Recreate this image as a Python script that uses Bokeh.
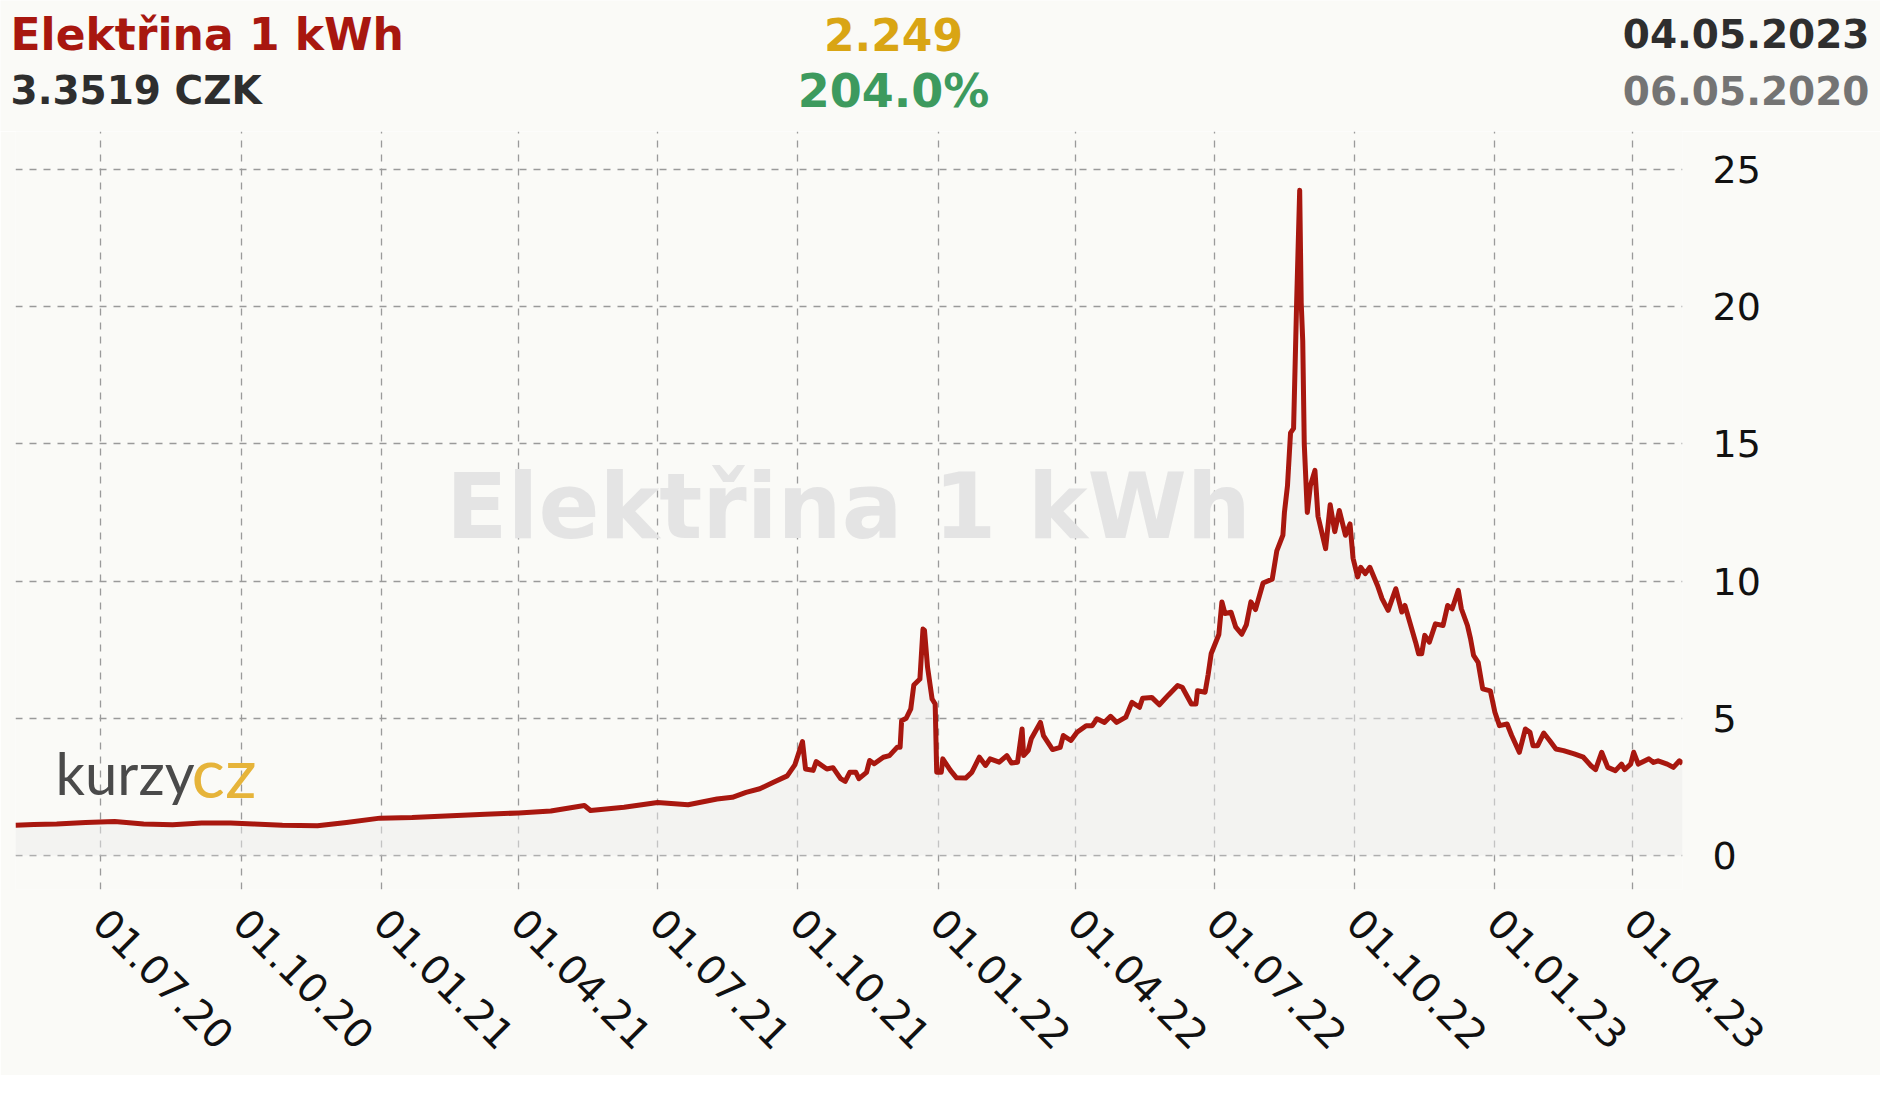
import math
import pandas as pd
from bokeh.plotting import figure
from bokeh.layouts import column
from bokeh.models import Range1d, FixedTicker, DatetimeTickFormatter, Label, ColumnDataSource
from bokeh.embed import file_html
from bokeh.resources import INLINE

# ---------------- data ----------------
dates = [
    "2020-05-06", "2020-05-18", "2020-06-02", "2020-06-21", "2020-07-10", "2020-07-29",
    "2020-08-17", "2020-09-05", "2020-09-24", "2020-10-09", "2020-10-28", "2020-11-20",
    "2020-12-09", "2020-12-31",
    "2021-01-21", "2021-02-12", "2021-03-10", "2021-04-01", "2021-04-22", "2021-05-14",
    "2021-05-18", "2021-06-09", "2021-07-01", "2021-07-21", "2021-08-09", "2021-08-19",
    "2021-08-28", "2021-09-06", "2021-09-15", "2021-09-24", "2021-09-29", "2021-10-04",
    "2021-10-06", "2021-10-11", "2021-10-13", "2021-10-20", "2021-10-24", "2021-10-29",
    "2021-11-01", "2021-11-04", "2021-11-08", "2021-11-10", "2021-11-15", "2021-11-17",
    "2021-11-20", "2021-11-26", "2021-11-30", "2021-12-05", "2021-12-07", "2021-12-08",
    "2021-12-11", "2021-12-14", "2021-12-16", "2021-12-20", "2021-12-22", "2021-12-23",
    "2021-12-25", "2021-12-28", "2021-12-30", "2021-12-31",
    "2022-01-03", "2022-01-04", "2022-01-09", "2022-01-13", "2022-01-19", "2022-01-23",
    "2022-01-28", "2022-02-01", "2022-02-04", "2022-02-10", "2022-02-15", "2022-02-18",
    "2022-02-22", "2022-02-25", "2022-02-26", "2022-03-01", "2022-03-03", "2022-03-09",
    "2022-03-11", "2022-03-17", "2022-03-22", "2022-03-24", "2022-03-29", "2022-04-02",
    "2022-04-08", "2022-04-12", "2022-04-15", "2022-04-20", "2022-04-24", "2022-04-28",
    "2022-05-04", "2022-05-08", "2022-05-13", "2022-05-15", "2022-05-21", "2022-05-26",
    "2022-06-01", "2022-06-07", "2022-06-10", "2022-06-16", "2022-06-19", "2022-06-20",
    "2022-06-25", "2022-06-27", "2022-06-29", "2022-07-04", "2022-07-06", "2022-07-08",
    "2022-07-12", "2022-07-15", "2022-07-19", "2022-07-22", "2022-07-25", "2022-07-28",
    "2022-08-02", "2022-08-08", "2022-08-11", "2022-08-15", "2022-08-16", "2022-08-18",
    "2022-08-20", "2022-08-22", "2022-08-24", "2022-08-26", "2022-08-27", "2022-08-28",
    "2022-08-29", "2022-08-31", "2022-09-02", "2022-09-05", "2022-09-07", "2022-09-12",
    "2022-09-15", "2022-09-18", "2022-09-21", "2022-09-25", "2022-09-28", "2022-09-30",
    "2022-10-03", "2022-10-05", "2022-10-08", "2022-10-11", "2022-10-16", "2022-10-19",
    "2022-10-23", "2022-10-28", "2022-11-01", "2022-11-03", "2022-11-10", "2022-11-12",
    "2022-11-14", "2022-11-16", "2022-11-19", "2022-11-23", "2022-11-28", "2022-12-01",
    "2022-12-04", "2022-12-08", "2022-12-10", "2022-12-14", "2022-12-16", "2022-12-18",
    "2022-12-21", "2022-12-24", "2022-12-29",
    "2023-01-01", "2023-01-04", "2023-01-09", "2023-01-12", "2023-01-17", "2023-01-21",
    "2023-01-24", "2023-01-26", "2023-01-29", "2023-02-02", "2023-02-06", "2023-02-10",
    "2023-02-15", "2023-02-22", "2023-02-28", "2023-03-05", "2023-03-08", "2023-03-12",
    "2023-03-16", "2023-03-21", "2023-03-25", "2023-03-27", "2023-03-31", "2023-04-02",
    "2023-04-05", "2023-04-12", "2023-04-15", "2023-04-18", "2023-04-24", "2023-04-28",
    "2023-05-02", "2023-05-04",
]
prices = [
    1.10, 1.13, 1.15, 1.20, 1.24, 1.15,
    1.12, 1.18, 1.18, 1.15, 1.10, 1.08,
    1.20, 1.36,
    1.38, 1.44, 1.50, 1.55, 1.62, 1.82,
    1.64, 1.76, 1.93, 1.85, 2.06, 2.12,
    2.30, 2.43, 2.67, 2.90, 3.30, 4.15,
    3.15, 3.10, 3.42, 3.15, 3.20, 2.80,
    2.70, 3.03, 3.03, 2.80, 3.03, 3.46,
    3.34, 3.58, 3.64, 3.94, 3.94, 4.91,
    5.00, 5.34, 6.21, 6.43, 8.25, 8.20,
    6.86, 5.70, 5.52, 3.03,
    3.03, 3.52, 3.10, 2.83, 2.82, 3.03,
    3.58, 3.28, 3.52, 3.40, 3.64, 3.37,
    3.40, 4.61, 3.64, 3.82, 4.25, 4.85,
    4.37, 3.86, 3.94, 4.37, 4.19, 4.49,
    4.73, 4.73, 4.98, 4.85, 5.07, 4.85,
    5.04, 5.58, 5.40, 5.73, 5.76, 5.49,
    5.85, 6.19, 6.13, 5.52, 5.52, 6.00,
    5.95, 6.60, 7.36, 8.05, 9.24, 8.82,
    8.86, 8.33, 8.06, 8.40, 9.24, 8.96,
    9.93, 10.07, 11.10, 11.67, 12.50, 13.47,
    15.40, 15.56, 20.14, 24.24, 20.14, 18.75,
    15.00, 12.50, 13.47, 14.03, 12.36, 11.18,
    12.78, 11.80, 12.57, 11.67, 12.08, 10.83,
    10.15, 10.50, 10.27, 10.50, 9.84, 9.36,
    8.93, 9.72, 8.87, 9.11, 7.77, 7.35,
    7.35, 8.02, 7.77, 8.44, 8.38, 9.11,
    8.99, 9.66, 8.99, 8.38, 7.90, 7.29,
    7.04, 6.07, 6.00,
    5.22, 4.73, 4.79, 4.37, 3.76, 4.61,
    4.49, 4.00, 4.00, 4.46, 4.18, 3.88,
    3.82, 3.70, 3.58, 3.27, 3.13, 3.76,
    3.21, 3.09, 3.33, 3.13, 3.33, 3.76,
    3.33, 3.52, 3.39, 3.45, 3.33, 3.21,
    3.45, 3.35,
]
x_tick_dates = ["2020-07-01", "2020-10-01", "2021-01-01", "2021-04-01", "2021-07-01",
                "2021-10-01", "2022-01-01", "2022-04-01", "2022-07-01", "2022-10-01",
                "2023-01-01", "2023-04-01"]
y_ticks = [0, 5, 10, 15, 20, 25]

title_text = "Elektřina 1 kWh"
current_text = "3.3519 CZK"
change_abs_text = "2.249"
change_pct_text = "204.0%"
date_to_text = "04.05.2023"
date_from_text = "06.05.2020"
logo_a = "kurzy"
logo_b = "cz"

# ---------------- styling ----------------
BG = "#fafaf7"
RED = "#a8170f"
FONT = "DejaVu Sans"
W = 1880
HEAD_H = 131
MAIN_H = 944

# ---------------- header ----------------
head = figure(width=W, height=HEAD_H, output_backend="svg", toolbar_location=None,
              x_axis_location=None, y_axis_location=None,
              x_range=Range1d(0, 1), y_range=Range1d(0, 1),
              min_border_left=0, min_border_right=0, min_border_top=0, min_border_bottom=0)
head.frame_align = False
head.background_fill_color = BG
head.border_fill_color = BG
head.outline_line_color = None
head.grid.visible = False

def hdr(x, y, text, size, color, align):
    head.add_layout(Label(x=x, y=y, x_units="screen", y_units="screen", text=text,
                          text_font=FONT, text_font_style="bold", text_font_size=size,
                          text_color=color, text_align=align, text_baseline="alphabetic"))

hdr(10, 97, title_text, "44px", RED, "left")
hdr(10, 41, current_text, "39px", "#2e2e2e", "left")
hdr(893, 97, change_abs_text, "44px", "#d9a514", "center")
hdr(893, 41, change_pct_text, "46px", "#3d9a5e", "center")
hdr(1869, 98, date_to_text, "39px", "#2e2e2e", "right")
hdr(1869, 41, date_from_text, "39px", "#747474", "right")

# ---------------- main chart ----------------
dt = pd.to_datetime(dates)
src = ColumnDataSource(dict(x=dt, y=prices))

p = figure(width=W, height=MAIN_H, x_axis_type="datetime", y_axis_location="right",
           output_backend="svg", toolbar_location=None,
           x_range=Range1d(dt[0], dt[-1]), y_range=Range1d(-1.24, 26.38),
           min_border_left=15, min_border_right=198, min_border_top=0, min_border_bottom=186)
p.frame_align = False
p.background_fill_color = BG
p.border_fill_color = BG
p.outline_line_color = None

tick_ms = [pd.Timestamp(d).value // 10**6 for d in x_tick_dates]
p.xaxis.ticker = FixedTicker(ticks=tick_ms)
p.xgrid.ticker = FixedTicker(ticks=tick_ms)
fmt = "%d.%m.%y"
p.xaxis.formatter = DatetimeTickFormatter(milliseconds=fmt, seconds=fmt, minsec=fmt, minutes=fmt,
                                          hourmin=fmt, hours=fmt, days=fmt, months=fmt, years=fmt)
p.yaxis.ticker = FixedTicker(ticks=y_ticks)
p.ygrid.ticker = FixedTicker(ticks=y_ticks)

for ax in (p.xaxis[0], p.yaxis[0]):
    ax.axis_line_color = None
    ax.major_tick_line_color = None
    ax.minor_tick_line_color = None
    ax.major_label_text_font = FONT
    ax.major_label_text_color = "#111111"
p.xaxis.major_label_text_font_size = "40px"
p.yaxis.major_label_text_font_size = "38px"
p.xaxis.major_label_orientation = -math.pi / 4
p.xaxis.major_label_standoff = 20
p.yaxis.major_label_standoff = 24

for g in (p.xgrid[0], p.ygrid[0]):
    g.grid_line_color = "#9a9a9a"
    g.grid_line_dash = "7 7"
    g.grid_line_width = 1.3

# watermark
p.add_layout(Label(x=833, y=383, x_units="screen", y_units="screen", text=title_text,
                   text_font=FONT, text_font_style="bold", text_font_size="90px",
                   text_color="#e4e4e4", text_align="center", text_baseline="alphabetic",
                   level="underlay"))
# logo
p.add_layout(Label(x=40, y=117, x_units="screen", y_units="screen", text=logo_a,
                   text_font="Lato", text_font_size="58px", text_color="#4a4a4a",
                   text_align="left", text_baseline="alphabetic", level="underlay"))
p.add_layout(Label(x=176, y=119, x_units="screen", y_units="screen", text=logo_b,
                   text_font="Lato", text_font_size="70px", text_color="#e6b43a",
                   text_align="left", text_baseline="alphabetic", level="underlay"))

p.varea(x="x", y1=0, y2="y", source=src, fill_color="#ebebeb", fill_alpha=0.5)
p.line(x="x", y="y", source=src, line_color=RED, line_width=5, line_join="round")

layout = column(head, p, spacing=0)
open("out.html", "w").write(file_html(layout, INLINE))
